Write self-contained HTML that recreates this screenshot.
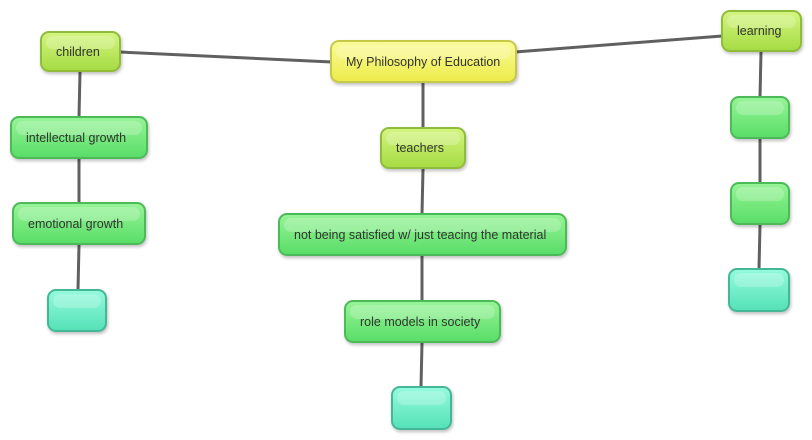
<!DOCTYPE html>
<html><head><style>
body{margin:0;width:812px;height:440px;background:#fff;position:relative;overflow:hidden;font-family:"Liberation Sans",sans-serif;}
.n{position:absolute;box-sizing:border-box;border-radius:9px;font-size:12.5px;color:#333;display:flex;align-items:center;padding-left:14px;box-shadow:1px 2px 3px rgba(0,0,0,0.25);}
.n::before{content:"";position:absolute;left:4px;right:4px;top:3px;height:35%;border-radius:7px;background:rgba(255,255,255,0.22);}
.n span{position:relative;z-index:1;}
.y{background:linear-gradient(#fbfb98,#ecec4c);border:2px solid #c8c848;}
.lg{background:linear-gradient(#d4f580,#a6dc44);border:2px solid #90bc3c;}
.g{background:linear-gradient(#96f496,#5ade68);border:2px solid #4cba58;}
.t{background:linear-gradient(#94fadc,#56e2b8);border:2px solid #44b896;}
svg{position:absolute;left:0;top:0;}
</style></head><body>
<svg width="812" height="440">
<g stroke="#606060" stroke-width="3" fill="none">
<line x1="120" y1="52" x2="332" y2="62"/>
<line x1="515" y1="52" x2="722" y2="36"/>
<line x1="80" y1="72" x2="79" y2="117"/>
<line x1="79" y1="159" x2="79" y2="203"/>
<line x1="79" y1="245" x2="78" y2="290"/>
<line x1="423" y1="83" x2="423" y2="128"/>
<line x1="423" y1="169" x2="422" y2="214"/>
<line x1="422" y1="256" x2="422" y2="301"/>
<line x1="422" y1="343" x2="421" y2="387"/>
<line x1="761" y1="52" x2="760" y2="97"/>
<line x1="760" y1="139" x2="760" y2="183"/>
<line x1="760" y1="225" x2="759" y2="269"/>
</g></svg>
<div class="n lg" style="left:40px;top:31px;width:81px;height:41px;"><span>children</span></div>
<div class="n y" style="left:330px;top:40px;width:187px;height:43px;"><span>My Philosophy of Education</span></div>
<div class="n lg" style="left:721px;top:10px;width:81px;height:42px;"><span>learning</span></div>
<div class="n g" style="left:10px;top:116px;width:138px;height:43px;"><span>intellectual growth</span></div>
<div class="n g" style="left:12px;top:202px;width:134px;height:43px;"><span>emotional growth</span></div>
<div class="n t" style="left:47px;top:289px;width:60px;height:43px;"></div>
<div class="n lg" style="left:380px;top:127px;width:86px;height:42px;"><span>teachers</span></div>
<div class="n g" style="left:278px;top:213px;width:289px;height:43px;"><span>not being satisfied w/ just teacing the material</span></div>
<div class="n g" style="left:344px;top:300px;width:157px;height:43px;"><span>role models in society</span></div>
<div class="n t" style="left:391px;top:386px;width:61px;height:44px;"></div>
<div class="n g" style="left:730px;top:96px;width:60px;height:43px;"></div>
<div class="n g" style="left:730px;top:182px;width:60px;height:43px;"></div>
<div class="n t" style="left:728px;top:268px;width:62px;height:44px;"></div>
</body></html>
